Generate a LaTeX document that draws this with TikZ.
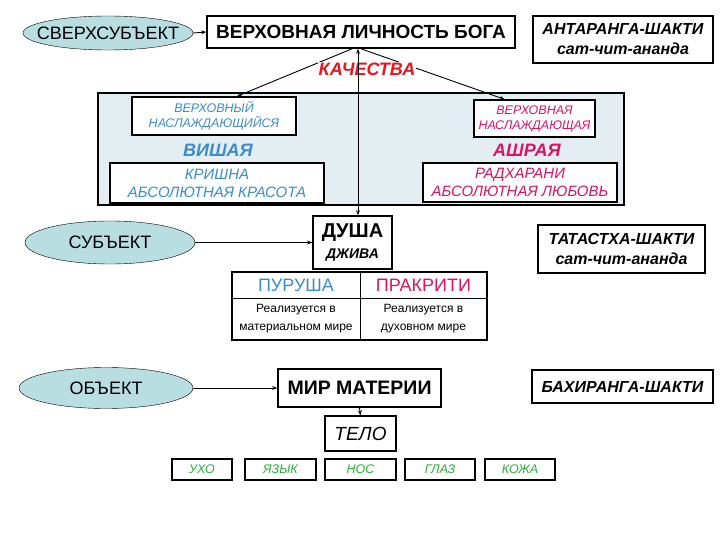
\documentclass[tikz,border=0pt]{standalone}
\usepackage{fontspec}
\setmainfont{Liberation Sans}
\usetikzlibrary{shapes.geometric,arrows.meta,positioning,calc}
\definecolor{ovalfill}{RGB}{184,222,226}
\definecolor{panelfill}{RGB}{228,238,242}
\definecolor{myblue}{RGB}{58,140,205}
\definecolor{mymagenta}{RGB}{222,18,98}
\definecolor{myred}{RGB}{232,20,30}
\definecolor{mygreen}{RGB}{40,175,60}
\tikzset{
  oval/.style={ellipse,draw,fill=ovalfill,inner sep=0pt},
  ovaltext/.style={inner sep=0pt,font=\fontsize{18}{20}\selectfont},
  bigbox/.style={draw,line width=1.6pt,fill=white,inner sep=0pt,align=center},
  qbox/.style={draw,line width=1.4pt,fill=white,inner sep=0pt,align=center,text=#1,font=\fontsize{12.5}{15}\selectfont\itshape},
  sense/.style={draw,line width=1.2pt,fill=white,inner sep=0pt,minimum width=#1,minimum height=21pt,text=mygreen,font=\fontsize{12.5}{14}\selectfont\itshape},
  cell/.style={draw,line width=0.5pt,inner sep=0pt,align=center},
}
\begin{document}
\begin{tikzpicture}[x=1pt,y=-1pt,
        arr/.style={-{Stealth[length=5pt,width=4pt]},line width=0.9pt},
        biarr/.style={{Stealth[length=5pt,width=4pt]}-{Stealth[length=5pt,width=4pt]},line width=0.9pt},
      ]
        \useasboundingbox[fill=white] (0,0) rectangle (720,540);

        \node[oval,minimum width=170pt,minimum height=34pt] (supsubj) at (108,33) {};
        \node[ovaltext] (supsubjtxt) at (supsubj) {СВЕРХСУБЪЕКТ};
        \node[bigbox,minimum width=308pt,minimum height=32pt,font=\fontsize{19}{22}\selectfont\bfseries] (bog) at (361,32)
          {ВЕРХОВНАЯ ЛИЧНОСТЬ БОГА};
        \node[bigbox,minimum width=180pt,minimum height=47pt,font=\fontsize{16}{20}\selectfont\bfseries\itshape] (antar) at (623,39.5)
          {АНТАРАНГА-ШАКТИ\\сат-чит-ананда};
        \draw[arr] (supsubj.east) -- (bog.west);

        \node[draw,line width=1.6pt,fill=panelfill,minimum width=526pt,minimum height=112pt,inner sep=0pt] (panel) at (361,149) {};
        \node[qbox=myblue,minimum width=164pt,minimum height=38pt] (naslm) at (214,116)
          {ВЕРХОВНЫЙ\\НАСЛАЖДАЮЩИЙСЯ};
        \node[qbox=mymagenta,minimum width=121pt,minimum height=37pt] (naslf) at (534.5,118.5)
          {ВЕРХОВНАЯ\\НАСЛАЖДАЮЩАЯ};
        \node[text=myblue,font=\fontsize{18}{20}\selectfont\bfseries\itshape] (vish) at (218,150) {ВИШАЯ};
        \node[text=mymagenta,font=\fontsize{18}{20}\selectfont\bfseries\itshape] (ashr) at (527,150) {АШРАЯ};
        \node[qbox=myblue,minimum width=214pt,minimum height=40pt,font=\fontsize{15}{18}\selectfont\itshape] (krishna) at (217,183)
          {КРИШНА\\АБСОЛЮТНАЯ КРАСОТА};
        \node[qbox=mymagenta,minimum width=194pt,minimum height=39pt,font=\fontsize{15}{18}\selectfont\itshape] (radha) at (520,182.5)
          {РАДХАРАНИ\\АБСОЛЮТНАЯ ЛЮБОВЬ};

        \draw[line width=0.9pt,-{Stealth[length=5pt,width=4pt]}] ([xshift=-9pt]bog.south) -- ([xshift=23pt]naslm.north);
        \draw[line width=0.9pt,-{Stealth[length=5pt,width=4pt]}] (bog.south) -- ([xshift=-30pt]naslf.north);
        \node[fill=white,inner sep=1pt,text=myred,font=\fontsize{18}{20}\selectfont\bfseries\itshape] (kach) at (367,69) {КАЧЕСТВА};

        \node[oval,minimum width=170pt,minimum height=43pt] (subj) at (110,242.5) {};
        \node[ovaltext] (subjtxt) at (subj) {СУБЪЕКТ};
        \node[bigbox,minimum width=79pt,minimum height=53pt] (dusha) at (352.5,242.5)
          {{\fontsize{20}{22}\selectfont\bfseries ДУША}\\[6pt]{\fontsize{14}{16}\selectfont\bfseries\itshape ДЖИВА}};
        \node[bigbox,minimum width=167pt,minimum height=48pt,font=\fontsize{16}{20}\selectfont\bfseries\itshape] (tatas) at (621.5,249)
          {ТАТАСТХА-ШАКТИ\\сат-чит-ананда};
        \draw[arr] (subj.east) -- (dusha.west);
        \draw[biarr] ([xshift=5.5pt]dusha.north) -- ([xshift=5.5pt]dusha.north |- bog.south);

        \node[cell,minimum width=128pt,minimum height=26pt,text=myblue,font=\fontsize{18}{20}\selectfont] (puru) at (296,285) {ПУРУША};
        \node[cell,minimum width=127pt,minimum height=26pt,text=mymagenta,font=\fontsize{18}{20}\selectfont] (prak) at (423.5,285) {ПРАКРИТИ};
        \node[cell,minimum width=128pt,minimum height=42pt,font=\fontsize{12}{18}\selectfont] (purutxt) at (296,319)
          {Реализуется в\\материальном мире};
        \node[cell,minimum width=127pt,minimum height=42pt,font=\fontsize{12}{18}\selectfont] (praktxt) at (423.5,319)
          {Реализуется в\\духовном мире};
        \draw[line width=1.6pt] (puru.north west) rectangle (praktxt.south east);

        \node[oval,minimum width=174pt,minimum height=41pt] (obj) at (106,388) {};
        \node[ovaltext] (objtxt) at (obj) {ОБЪЕКТ};
        \node[bigbox,minimum width=163pt,minimum height=38pt,font=\fontsize{19.5}{22}\selectfont\bfseries] (mir) at (359.5,388)
          {МИР МАТЕРИИ};
        \node[bigbox,minimum width=181pt,minimum height=33pt,font=\fontsize{16}{20}\selectfont\bfseries\itshape] (bahir) at (622.5,386.5)
          {БАХИРАНГА-ШАКТИ};
        \draw[arr] (obj.east) -- (mir.west);

        \node[bigbox,line width=1.3pt,minimum width=71pt,minimum height=35pt,font=\fontsize{19}{22}\selectfont\itshape] (telo) at (360.5,433.5) {ТЕЛО};
        \draw[arr] (mir.south) -- (telo.north);

        \node[sense=60pt] (ear) at (202,469.5) {УХО};
        \node[sense=71pt] (tongue) at (280.5,469.5) {ЯЗЫК};
        \node[sense=71pt] (nose) at (360.5,469.5) {НОС};
        \node[sense=70pt] (eye) at (440,469.5) {ГЛАЗ};
        \node[sense=70pt] (skin) at (520,469.5) {КОЖА};
      \end{tikzpicture}
\end{document}
